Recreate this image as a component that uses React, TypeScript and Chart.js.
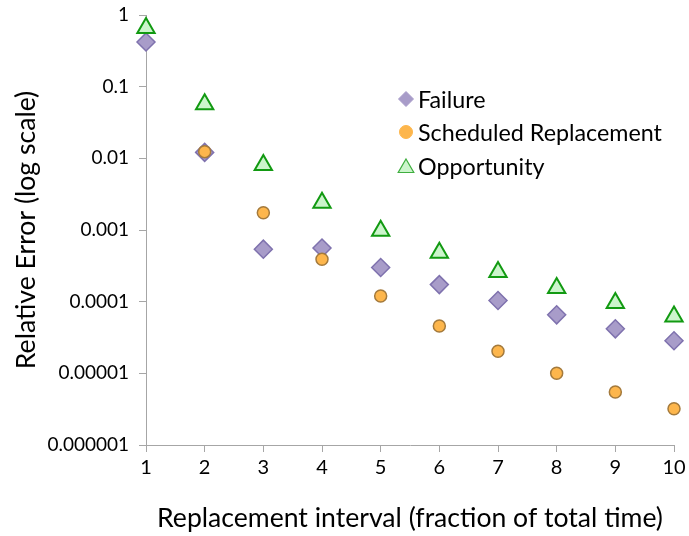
import React, { useEffect, useRef } from "react";
import { Chart, registerables } from "chart.js";

Chart.register(...registerables);

const intervals = [1, 2, 3, 4, 5, 6, 7, 8, 9, 10];
const failure = [0.42, 0.0121, 0.00054, 0.00056, 0.0003, 0.000173, 0.000104, 0.0000655, 0.0000418, 0.0000285];
const scheduledIntervals = [2, 3, 4, 5, 6, 7, 8, 9, 10];
const scheduled = [0.0124, 0.00174, 0.00039, 0.00012, 0.0000458, 0.0000203, 0.00001, 0.0000055, 0.0000032];
const opportunity = [0.66, 0.057, 0.0081, 0.0024, 0.00098, 0.00048, 0.00026, 0.000155, 0.000096, 0.000062];
const yTicks = [1, 0.1, 0.01, 0.001, 0.0001, 0.00001, 0.000001];
const yTickLabels = ["1", "0.1", "0.01", "0.001", "0.0001", "0.00001", "0.000001"];
const seriesNames = ["Failure", "Scheduled Replacement", "Opportunity"];

const FONT = "Lato, 'Open Sans', sans-serif";
const AXIS_GREY = "#a6a6a6";

const styles = [
  { shape: "diamond", fill: "#a89cc9", stroke: "#7f72ae", radius: 9, width: 1.5 },
  { shape: "circle", fill: "#fdb64c", stroke: "#a47a3c", radius: 6, width: 1.5 },
  { shape: "triangle", fill: "#ccf5cc", stroke: "#129a12", radius: 10, width: 2 },
];

function drawMarker(ctx: CanvasRenderingContext2D, shape: string, x: number, y: number, r: number) {
  ctx.beginPath();
  if (shape === "diamond") {
    ctx.moveTo(x, y - r);
    ctx.lineTo(x + r, y);
    ctx.lineTo(x, y + r);
    ctx.lineTo(x - r, y);
    ctx.closePath();
  } else if (shape === "circle") {
    ctx.arc(x, y, r, 0, Math.PI * 2);
  } else {
    const h = r * 0.866;
    ctx.moveTo(x, y - r);
    ctx.lineTo(x + h, y + r / 2);
    ctx.lineTo(x - h, y + r / 2);
    ctx.closePath();
  }
}

// Legend drawn inside the plot area, to the right of the early points
const legendPlugin = {
  id: "sideLegend",
  afterDraw(chart: any) {
    const ctx = chart.ctx as CanvasRenderingContext2D;
    const rows = [99, 132, 166];
    const sizes = [7.5, 6.5, 9];
    ctx.save();
    ctx.font = `23.3px ${FONT}`;
    ctx.textBaseline = "middle";
    ctx.textAlign = "left";
    seriesNames.forEach((name, i) => {
      const s = styles[i];
      drawMarker(ctx, s.shape, 406, rows[i] + (s.shape === "triangle" ? 2 : 0), sizes[i]);
      ctx.fillStyle = s.fill;
      ctx.fill();
      ctx.lineWidth = s.shape === "triangle" ? 1.2 : 1;
      ctx.strokeStyle = s.shape === "triangle" ? "#3fae3f" : s.fill;
      ctx.stroke();
      ctx.fillStyle = "#000";
      ctx.fillText(name, 418, rows[i] + 1);
    });
    ctx.restore();
  },
};

export default function App() {
  const ref = useRef<HTMLCanvasElement>(null);

  useEffect(() => {
    if (!ref.current) return;
    const mk = (i: number, xs: number[], ys: number[], order: number) => ({
      label: seriesNames[i],
      data: xs.map((x, k) => ({ x, y: ys[k] })),
      pointStyle: styles[i].shape === "diamond" ? "rectRot" : styles[i].shape === "circle" ? "circle" : "triangle",
      pointRadius: styles[i].radius,
      pointHoverRadius: styles[i].radius,
      backgroundColor: styles[i].fill,
      borderColor: styles[i].stroke,
      pointBorderWidth: styles[i].width,
      showLine: false,
      clip: false as const,
      order,
    });

    const chart = new Chart(ref.current, {
      type: "scatter",
      data: {
        datasets: [
          mk(0, intervals, failure, 3),
          mk(1, scheduledIntervals, scheduled, 2),
          mk(2, intervals, opportunity, 1),
        ],
      },
      plugins: [legendPlugin],
      options: {
        animation: false,
        responsive: false,
        layout: { padding: { top: 15, right: 15, left: 0, bottom: 0 } },
        plugins: { legend: { display: false }, tooltip: { enabled: false } },
        scales: {
          x: {
            type: "linear",
            min: 1,
            max: 10,
            ticks: { stepSize: 1, color: "#000", font: { family: FONT, size: 20 }, padding: 4 },
            grid: { drawOnChartArea: false, drawTicks: true, tickLength: 7, color: AXIS_GREY },
            border: { color: AXIS_GREY, width: 1 },
            title: {
              display: true,
              text: "Replacement interval (fraction of total time)",
              color: "#000",
              font: { family: FONT, size: 26.6 },
              padding: { top: 8, bottom: 2 },
            },
            afterFit: (s: any) => {
              s.height = 91;
              s.paddingLeft = 0;
              s.paddingRight = 0;
            },
          },
          y: {
            type: "logarithmic",
            min: 0.000001,
            max: 1,
            afterBuildTicks: (s: any) => {
              s.ticks = yTicks.map((v) => ({ value: v }));
            },
            ticks: {
              color: "#000",
              font: { family: FONT, size: 19 },
              padding: 10,
              callback: (v: any) => {
                const idx = yTicks.findIndex((t) => Math.abs(Math.log10(t) - Math.log10(v)) < 1e-6);
                return idx >= 0 ? yTickLabels[idx] : "";
              },
            },
            grid: { drawOnChartArea: false, drawTicks: true, tickLength: 7, color: AXIS_GREY },
            border: { color: AXIS_GREY, width: 1 },
            title: {
              display: true,
              text: "Relative Error (log scale)",
              color: "#000",
              font: { family: FONT, size: 26.6 },
              padding: { top: 10, bottom: 6 },
            },
            afterFit: (s: any) => {
              s.width = 146;
              s.paddingTop = 0;
              s.paddingBottom = 0;
            },
          },
        },
      },
    });
    return () => chart.destroy();
  }, []);

  return (
    <div style={{ position: "fixed", left: 0, top: 0, width: 689, height: 536, background: "#fff" }}>
      <canvas ref={ref} width={689} height={536} style={{ display: "block" }} />
    </div>
  );
}
